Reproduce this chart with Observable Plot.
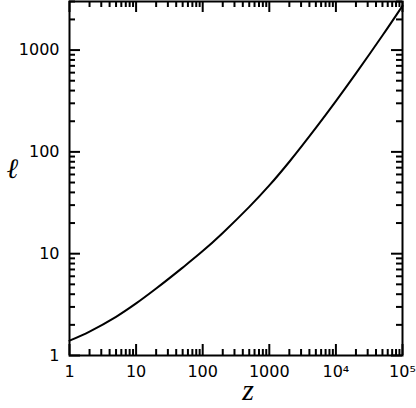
<!DOCTYPE html>
<html>
<head>
<meta charset="utf-8">
<script src="https://cdn.jsdelivr.net/npm/d3@7"></script>
<script src="https://cdn.jsdelivr.net/npm/@observablehq/plot@0.6"></script>
<style>
  html, body { margin: 0; padding: 0; background: #fff; }
  #chart svg { display: block; background: #fff; }
</style>
</head>
<body>
<div id="chart"></div>
<script>
// Curve values (log-log)
const zValues = [1, 2, 5, 10, 20, 50, 100, 200, 500, 1000, 2000, 5000, 1e4, 2e4, 5e4, 1e5];
const ellValues = [1.40, 1.72, 2.40, 3.25, 4.55, 7.3, 10.6, 16.0, 28.8, 46.8, 80, 172, 315, 590, 1390, 2720];

// Axis ticks
const xMajor = [1, 10, 100, 1000, 1e4, 1e5];
const xMajorLabels = ["1", "10", "100", "1000", "10\u2074", "10\u2075"];
const yMajor = [1, 10, 100, 1000];
const yMajorLabels = ["1", "10", "100", "1000"];
const minorMultipliers = [2, 3, 4, 5, 6, 7, 8, 9];

const xMinor = xMajor.slice(0, -1).flatMap(d => minorMultipliers.map(m => d * m));
const yMinor = [1, 10, 100, 1000].flatMap(d => minorMultipliers.map(m => d * m)).filter(v => v <= 3000);

const data = zValues.map((z, i) => ({z, ell: ellValues[i]}));
const xLab = xMajor.map((v, i) => ({v, t: xMajorLabels[i]}));
const yLab = yMajor.map((v, i) => ({v, t: yMajorLabels[i]}));

const W = 416, H = 408, mL = 69, mR = 14, mT = 1, mB = 53;
const fw = W - mL - mR, fh = H - mT - mB;
const MAJ = 11, MIN = 6;
const tickFont = "DejaVu Sans";

const chart = Plot.plot({
  width: W,
  height: H,
  marginLeft: mL,
  marginRight: mR,
  marginTop: mT,
  marginBottom: mB,
  x: {type: "log", domain: [1, 1e5], axis: null},
  y: {type: "log", domain: [1, 3000], axis: null},
  marks: [
    // bottom ticks
    Plot.ruleX(xMajor, {x: d => d, insetTop: fh - MAJ, stroke: "black", strokeWidth: 2}),
    Plot.ruleX(xMinor, {x: d => d, insetTop: fh - MIN, stroke: "black", strokeWidth: 2}),
    // top ticks
    Plot.ruleX(xMajor, {x: d => d, insetBottom: fh - MAJ, stroke: "black", strokeWidth: 2}),
    Plot.ruleX(xMinor, {x: d => d, insetBottom: fh - MIN, stroke: "black", strokeWidth: 2}),
    // left ticks
    Plot.ruleY(yMajor, {y: d => d, insetRight: fw - MAJ, stroke: "black", strokeWidth: 2}),
    Plot.ruleY(yMinor, {y: d => d, insetRight: fw - MIN, stroke: "black", strokeWidth: 2}),
    // right ticks
    Plot.ruleY(yMajor, {y: d => d, insetLeft: fw - MAJ, stroke: "black", strokeWidth: 2}),
    Plot.ruleY(yMinor, {y: d => d, insetLeft: fw - MIN, stroke: "black", strokeWidth: 2}),
    // tick labels
    Plot.text(xLab, {x: "v", text: "t", frameAnchor: "bottom", dy: 16, lineAnchor: "middle",
      textAnchor: "middle", fontFamily: tickFont, fontSize: 16, fill: "black"}),
    Plot.text(yLab, {y: "v", text: "t", frameAnchor: "left", dx: -10, lineAnchor: "middle",
      textAnchor: "end", fontFamily: tickFont, fontSize: 16, fill: "black"}),
    Plot.frame({stroke: "black", strokeWidth: 2}),
    Plot.line(data, {x: "z", y: "ell", stroke: "black", strokeWidth: 2, curve: "catmull-rom"}),
    // axis titles
    Plot.text(["z"], {text: d => d, frameAnchor: "bottom", dx: 12, dy: 35, lineAnchor: "middle",
      fontFamily: "Liberation Serif", fontStyle: "italic", fontSize: 30, fill: "black"}),
    Plot.text(["\u2113"], {text: d => d, frameAnchor: "left", dx: -63, dy: -9, lineAnchor: "middle",
      fontFamily: "DejaVu Serif", fontStyle: "italic", fontSize: 28, fill: "black"})
  ]
});

document.getElementById("chart").appendChild(chart);
</script>
</body>
</html>
